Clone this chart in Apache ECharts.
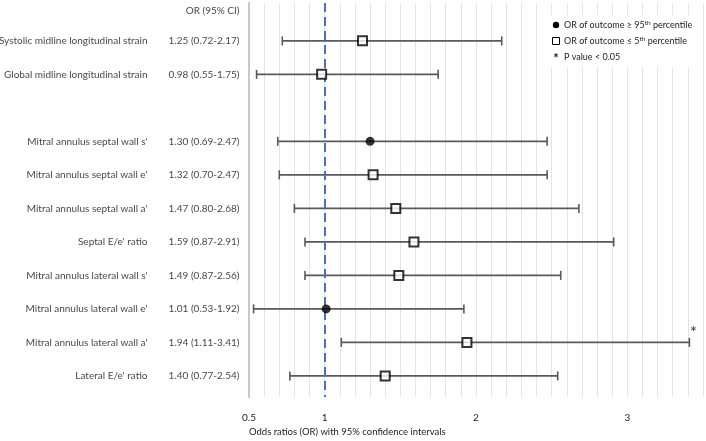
<!DOCTYPE html>
<html>
<head>
<meta charset="utf-8">
<script src="https://cdn.jsdelivr.net/npm/echarts@6/dist/echarts.min.js"></script>
<style>html,body{margin:0;padding:0;background:#fff}#c{width:706px;height:441px}</style>
</head>
<body>
<div id="c"></div>
<script>
// ---- data ----
const labels = ["Systolic midline longitudinal strain", "Global midline longitudinal strain",
  "Mitral annulus septal wall s'", "Mitral annulus septal wall e'", "Mitral annulus septal wall a'",
  "Septal E/e' ratio", "Mitral annulus lateral wall s'", "Mitral annulus lateral wall e'",
  "Mitral annulus lateral wall a'", "Lateral E/e' ratio"];
const rows = [1, 2, 4, 5, 6, 7, 8, 9, 10, 11];
const oddsRatio = [1.25, 0.98, 1.30, 1.32, 1.47, 1.59, 1.49, 1.01, 1.94, 1.40];
const lower = [0.72, 0.55, 0.69, 0.70, 0.80, 0.87, 0.87, 0.53, 1.11, 0.77];
const upper = [2.17, 1.75, 2.47, 2.47, 2.68, 2.91, 2.56, 1.92, 3.41, 2.54];
const outcome = ['low', 'low', 'high', 'low', 'low', 'low', 'low', 'high', 'low', 'low'];
const significant = [false, false, false, false, false, false, false, false, true, false];
const xTickLabels = [0.5, 1, 2, 3];
const headerText = 'OR (95% CI)';
const headerRow = 0.1;
const axisTitle = 'Odds ratios (OR) with 95% confidence intervals';

const FONT = 'Lato, "Open Sans", sans-serif';
const fmt = v => v.toFixed(2);

const ciData = rows.map((r, i) => [lower[i], upper[i], r]);
const highData = [], lowData = [], sigData = [];
rows.forEach((r, i) => {
  (outcome[i] === 'high' ? highData : lowData).push([oddsRatio[i], r]);
  if (significant[i]) sigData.push([upper[i], r]);
});
const labelData = rows.map((r, i) => ({ value: [0.5, r], name: labels[i] }));
const valueData = rows.map((r, i) => ({ value: [0.5, r], name: fmt(oddsRatio[i]) + ' (' + fmt(lower[i]) + '-' + fmt(upper[i]) + ')' }));
valueData.push({ value: [0.5, headerRow], name: headerText });

const supRich = { s: { fontSize: 6.5, verticalAlign: 'top', padding: [0, 0, 5, 0], fill: '#222', fontFamily: FONT } };

const chart = echarts.init(document.getElementById('c'), null, { renderer: 'canvas' });
chart.setOption({
  animation: false,
  backgroundColor: '#fff',
  textStyle: { fontFamily: FONT },
  grid: { left: 249, right: 3, top: 3, bottom: 44, containLabel: false },
  xAxis: {
    type: 'value', min: 0.5, max: 3.5, interval: 0.1,
    axisLine: { show: false }, axisTick: { show: false },
    splitLine: { show: true, lineStyle: { color: '#e4e4e4', width: 1 } },
    axisLabel: {
      margin: 16, color: '#222', fontSize: 10, fontFamily: FONT,
      showMinLabel: true,
      formatter: v => { const m = xTickLabels.find(t => Math.abs(t - v) < 1e-6); return m === undefined ? '' : String(m); }
    }
  },
  yAxis: {
    type: 'value', inverse: true, min: -0.13, max: 11.63,
    axisLine: { show: true, lineStyle: { color: '#c8c8c8', width: 2 } },
    axisTick: { show: false }, axisLabel: { show: false }, splitLine: { show: false }
  },
  graphic: [
    { type: 'text', z: 100, left: 249, top: 427, style: { text: axisTitle, fontSize: 9.5, fill: '#222', fontFamily: FONT } },
    {
      type: 'group', z: 100, left: 547, top: 15, children: [
        { type: 'rect', z: 100, shape: { x: 0, y: 0, width: 155, height: 52 }, style: { fill: '#fff' } },
        { type: 'circle', z: 101, shape: { cx: 9, cy: 10, r: 3.2 }, style: { fill: '#000' } },
        { type: 'text', z: 101, x: 17, y: 10, style: { text: 'OR of outcome ≥ 95{s|th} percentile', fontSize: 9, fill: '#222', fontFamily: FONT, verticalAlign: 'middle', rich: supRich } },
        { type: 'rect', z: 101, shape: { x: 5.5, y: 22.5, width: 7, height: 7 }, style: { fill: '#fff', stroke: '#000', lineWidth: 1 } },
        { type: 'text', z: 101, x: 17, y: 26, style: { text: 'OR of outcome ≤ 5{s|th} percentile', fontSize: 9, fill: '#222', fontFamily: FONT, verticalAlign: 'middle', rich: supRich } },
        { type: 'text', z: 101, x: 9, y: 44, style: { text: '*', fontSize: 13, fontWeight: 'bold', fill: '#222', fontFamily: FONT, align: 'center', verticalAlign: 'middle' } },
        { type: 'text', z: 101, x: 17, y: 42, style: { text: 'P value < 0.05', fontSize: 9, fill: '#222', fontFamily: FONT, verticalAlign: 'middle' } }
      ]
    }
  ],
  series: [
    {
      type: 'custom', name: 'CI', data: ciData, z: 2,
      encode: { x: [0, 1], y: 2 },
      renderItem: (params, api) => {
        const y = api.value(2);
        const a = api.coord([api.value(0), y]);
        const b = api.coord([api.value(1), y]);
        const h = 4.5;
        const st = { stroke: '#595959', lineWidth: 1.6 };
        return {
          type: 'group', children: [
            { type: 'line', shape: { x1: a[0], y1: a[1], x2: b[0], y2: b[1] }, style: st },
            { type: 'line', shape: { x1: a[0], y1: a[1] - h, x2: a[0], y2: a[1] + h }, style: st },
            { type: 'line', shape: { x1: b[0], y1: b[1] - h, x2: b[0], y2: b[1] + h }, style: st }
          ]
        };
      },
      markLine: {
        silent: true, symbol: 'none', label: { show: false },
        lineStyle: { color: '#4472C4', width: 2, type: [9, 5] },
        data: [{ xAxis: 1 }]
      }
    },
    {
      type: 'scatter', name: 'OR of outcome ≥ 95th percentile', data: highData, z: 5,
      symbol: 'circle', symbolSize: 9, itemStyle: { color: '#000' }
    },
    {
      type: 'scatter', name: 'OR of outcome ≤ 5th percentile', data: lowData, z: 5,
      symbol: 'rect', symbolSize: 9, itemStyle: { color: '#fff', borderColor: '#000', borderWidth: 2 }
    },
    {
      type: 'scatter', name: 'P value < 0.05', data: sigData, z: 5, clip: false,
      symbolSize: 1, itemStyle: { color: 'rgba(0,0,0,0)' },
      label: { show: true, formatter: '*', position: 'inside', offset: [4, -10], fontSize: 15, fontWeight: 'bold', color: '#222', fontFamily: FONT }
    },
    {
      type: 'scatter', name: 'labels', data: labelData, clip: false, z: 5,
      symbolSize: 1, itemStyle: { color: 'rgba(0,0,0,0)' },
      label: { show: true, position: 'left', distance: 101, formatter: p => p.name, fontSize: 10, color: '#111', fontFamily: FONT }
    },
    {
      type: 'scatter', name: 'values', data: valueData, clip: false, z: 5,
      symbolSize: 1, itemStyle: { color: 'rgba(0,0,0,0)' },
      label: { show: true, position: 'left', distance: 9, formatter: p => p.name, fontSize: 10, color: '#111', fontFamily: FONT }
    }
  ]
});
</script>
</body>
</html>
